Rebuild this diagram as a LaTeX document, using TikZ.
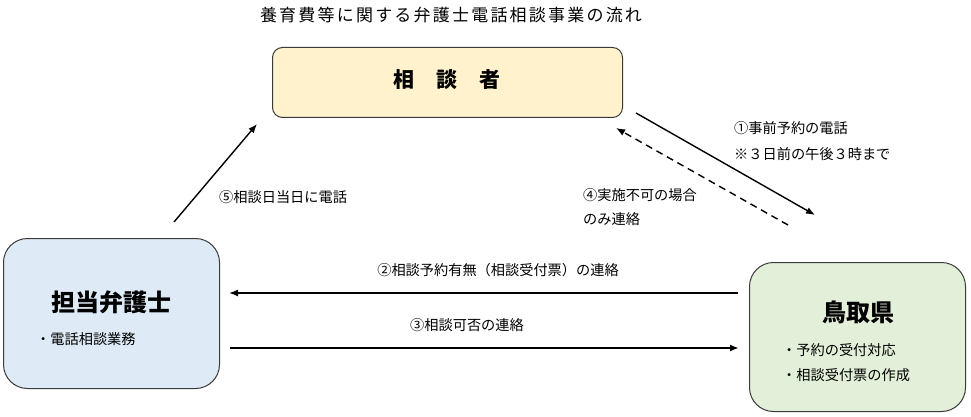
\documentclass[tikz,border=0pt]{standalone}
\usepackage{fontspec}
\setmainfont{Noto Sans CJK JP}
\usetikzlibrary{arrows.meta}
\definecolor{ybox}{HTML}{FFF2CC}
\definecolor{bbox}{HTML}{DEEBF7}
\definecolor{gbox}{HTML}{E2F0D9}
\definecolor{edge}{HTML}{3A3A3A}
\tikzset{
  box/.style={draw=edge, line width=1pt, anchor=north west, inner sep=0pt},
  lbl/.style={font=\fontsize{14.2}{16}\selectfont, inner sep=0pt, anchor=west},
  arr/.style={line width=1.4pt, -{Latex[length=9pt,width=7pt]}},
}
\begin{document}
\begin{tikzpicture}[x=1pt,y=-1pt]
\useasboundingbox (0,0) rectangle (971,417);
% title
\node[font=\fontsize{17}{19}\selectfont\addfontfeature{LetterSpace=13}, inner sep=0pt] (title) at (451,15) {養育費等に関する弁護士電話相談事業の流れ};
% boxes
\node[box, fill=ybox, rounded corners=10pt, minimum width=350pt, minimum height=70pt] (sodan) at (272,47) {};
\node[font=\fontsize{21}{23}\selectfont\bfseries, inner sep=0pt] (sodant) at (447,80) {相\hspace{1.05em}談\hspace{1.05em}者};
\node[box, fill=bbox, rounded corners=24pt, minimum width=216pt, minimum height=150pt] (bengo) at (3,238) {};
\node[font=\fontsize{24}{26}\selectfont\bfseries, inner sep=0pt] (bengot) at (111,302) {担当弁護士};
\node[lbl] (bengoa) at (36,339) {・電話相談業務};
\node[box, fill=gbox, rounded corners=24pt, minimum width=216pt, minimum height=149pt] (tottori) at (749,262) {};
\node[font=\fontsize{24}{26}\selectfont\bfseries, inner sep=0pt] (tottorit) at (858,312) {鳥取県};
\node[lbl] (tottoria) at (782,350) {・予約の受付対応};
\node[lbl] (tottorib) at (782,375) {・相談受付票の作成};
% arrow endpoints
\coordinate (a5s) at (174,222);
\coordinate (a5e) at (257,124);
\coordinate (a1s) at (636,113);
\coordinate (a1e) at (815,215);
\coordinate (a4s) at (788,225);
\coordinate (a4e) at (616,128);
\coordinate (a2s) at (738,293);
\coordinate (a2e) at (229,293);
\coordinate (a3s) at (230,348);
\coordinate (a3e) at (739,348);
\draw[arr] (a5s) -- (a5e);
\draw[arr] (a1s) -- (a1e);
\draw[arr, dashed, dash pattern=on 7pt off 5pt] (a4s) -- (a4e);
\draw[arr] (a2s) -- (a2e);
\draw[arr, line width=2.2pt] (a3s) -- (a3e);
% labels
\node[lbl] (l5) at (219,197) {⑤相談日当日に電話};
\node[lbl] (l1a) at (734,128) {①事前予約の電話};
\node[lbl] (l1b) at (734,154) {※３日前の午後３時まで};
\node[lbl] (l4a) at (583,195) {④実施不可の場合};
\node[lbl] (l4b) at (583,219) {のみ連絡};
\node[lbl, anchor=center] (l2) at (498,270) {②相談予約有無（相談受付票）の連絡};
\node[lbl, anchor=center] (l3) at (467,325) {③相談可否の連絡};
\end{tikzpicture}
\end{document}
